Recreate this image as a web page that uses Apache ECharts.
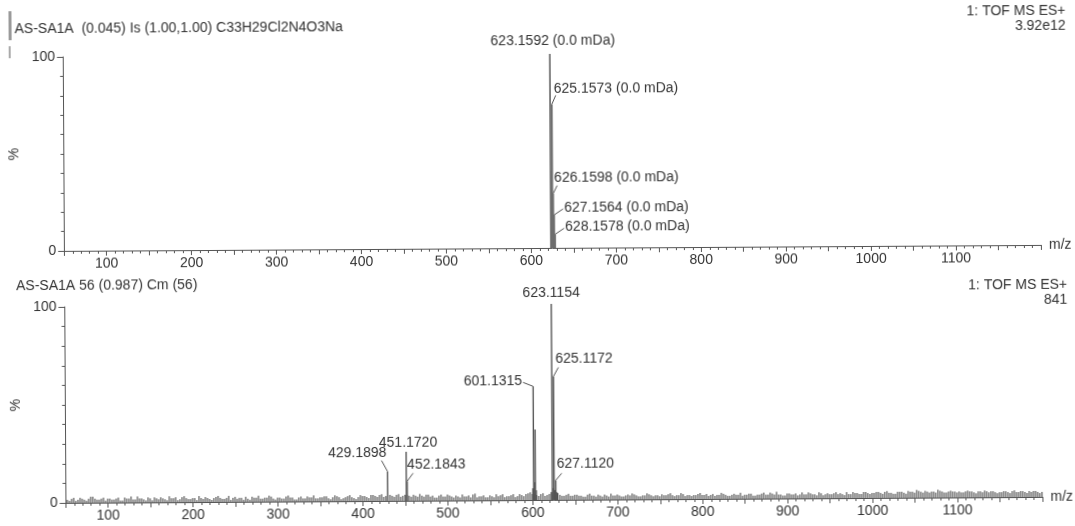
<!DOCTYPE html>
<html><head><meta charset="utf-8">
<script src="https://cdn.jsdelivr.net/npm/echarts@6/dist/echarts.min.js"></script>
<style>
html,body{margin:0;padding:0;background:#fff;overflow:hidden}
#c{width:1075px;height:526px;transform:rotate(-0.35deg);transform-origin:537px 263px;background:#fff}
</style>
</head><body><div id="c"></div>
<script>
// ---------- texts ----------
const topHeader = 'AS-SA1A  (0.045) Is (1.00,1.00) C33H29Cl2N4O3Na';
const topRight1 = '1: TOF MS ES+';
const topRight2 = '3.92e12';
const botHeader = 'AS-SA1A 56 (0.987) Cm (56)';
const botRight1 = '1: TOF MS ES+';
const botRight2 = '841';
const xTickLabels = [100, 200, 300, 400, 500, 600, 700, 800, 900, 1000, 1100];
const yTickLabels = [0, 100];

// ---------- top spectrum (theoretical isotope pattern) ----------
const topPeakMz  = [623.1592, 624.1625, 625.1573, 626.1598, 627.1564, 628.1578];
const topPeakInt = [100, 40, 74, 28, 17, 7];
const topLabelMz  = [623.1592, 625.1573, 626.1598, 627.1564, 628.1578];
const topLabelInt = [100, 74, 28, 17, 7];
const topLabelText = ['623.1592 (0.0 mDa)', '625.1573 (0.0 mDa)', '626.1598 (0.0 mDa)', '627.1564 (0.0 mDa)', '628.1578 (0.0 mDa)'];

// ---------- bottom spectrum (measured) ----------
const botPeakMz  = [429.1898, 451.1720, 452.1843, 600.13, 601.1315, 602.13, 603.13, 604.13, 622.11, 623.1154, 624.12, 625.1172, 626.12, 627.1120, 628.11];
const botPeakInt = [15, 25, 10, 6, 58, 9, 36, 5, 4, 100, 6, 63, 5, 10, 4];
const botLabelMz  = [623.1154, 625.1172, 601.1315, 451.1720, 429.1898, 452.1843, 627.1120];
const botLabelInt = [100, 63, 58, 25, 15, 10, 10];
const botLabelText = ['623.1154', '625.1172', '601.1315', '451.1720', '429.1898', '452.1843', '627.1120'];

// baseline noise, read as two interleaved sets of spikes (every 5 m/z, from m/z 52 and 54.5)
const noiseStartMzA = 52;
const noiseStartMzB = 54.5;
const noiseStepMz = 5;
const noiseIntA = [
  1.5,2,1,2.5,1.5,2,3,1.5,2,1,
  2,1.5,2.5,1,2,3,1.5,2,1.5,2.5,
  1,2,2.5,1.5,3,2,1,2.5,2,1.5,
  2,3,1.5,2,1,2.5,2,1.5,3,2,
  1.5,2,2.5,1,2,3,1.5,2,2.5,1,
  2,1.5,3,2,1,2.5,1.5,2,3,1.5,
  2,2.5,1,3,2,1.5,2.5,2,1,3,
  2.5,1.5,3,2,3.5,2.5,3,2,3.5,2.5,
  3,2,2.5,3.5,2,3,2.5,1.5,3,2,
  2.5,1.5,2,3,2,1.5,3.5,2,2.5,1.5,
  2,3,2.5,1.5,2,3,2,2.5,3,4,
  3,2,3.5,2.5,4,3,2.5,2,3,2,
  2.5,2,1.5,3,2,2.5,1.5,2,3,2,
  2,1.5,2.5,3,2,1.5,2,2.5,1.5,2,
  2.5,2,3,1.5,2,2.5,2,1.5,2,3,
  2,1.5,2.5,2,3,2,1.5,2.5,2,1.5,
  2,2.5,1.5,2,3,2,2.5,3.5,2,1.5,
  2.5,2,1.5,3,2,2.5,2,3,1.5,2.5,
  2,3,2.5,1.5,2,3,2.5,2,3,2,
  2.5,3,2,3.5,2.5,2,3,2.5,3.5,3,
  4,3,3.5,2.5,3,4,3,2.5,3.5,3,
  3,2.5,3.5,3,2,3,3.5,2.5,3,2,
  2.5,3,2,3.5,2.5,3,2,2.5,3,2
];
const noiseIntB = [
  1,2.5,1.5,2,1,3,2,1.5,2.5,2,
  1.5,2,1,2.5,2,1.5,3,2,1,2,
  2.5,1.5,2,1,2,2.5,1.5,3,1.5,2,
  1,2,2.5,1.5,2,3,1.5,2,1,2.5,
  2,1,1.5,2.5,2,1.5,2,3,1.5,2,
  1.5,2.5,2,1,2,1.5,2.5,2,1.5,2,
  2.5,1.5,2,2.5,1,2,3,1.5,2,2.5,
  2,3,2.5,3,2,3,2.5,3,2,3,
  2.5,3,2,2.5,3,2,1.5,2.5,2,3,
  2,2.5,1.5,2,2.5,3,1.5,2,1.5,2.5,
  1.5,2,3,2,2.5,1.5,3,2,3.5,3,
  2.5,3,2,3,2.5,3.5,2,2.5,2,2.5,
  2,1.5,2.5,2,1.5,2,2.5,1.5,2,2.5,
  1.5,2,2,2.5,1.5,2,3,2,2,1.5,
  2,2.5,2,2,3,1.5,2,2,2.5,2,
  2.5,2,1.5,2,2.5,1.5,2,2,3,2,
  2.5,1.5,2,2.5,2,3,2,2,1.5,2.5,
  2,2.5,2,2,3,2,1.5,2.5,2,2,
  2.5,2,2,3,2,2.5,2,3,2.5,2.5,
  3,2.5,3,2.5,2,3,3,2,3,2.5,
  3.5,2.5,3,3,2.5,3.5,2.5,3,3,2.5,
  2.5,3,3,2.5,3,2.5,3,3,2.5,2.5,
  3,2.5,3,2.5,3,2.5,3,3,2.5,2.5
];

// ---------- label layout (pixel offsets from peak apex; styling only) ----------
const topLabelLayout = [
  {lx:null, ly:null, tx:3,  ty:-13, align:'center'},
  {lx:4,  ly:-9, tx:2,  ty:-15, align:'left'},
  {lx:4,  ly:-8, tx:1,  ty:-16, align:'left'},
  {lx:9,  ly:-6, tx:10, ty:-7,  align:'left'},
  {lx:9,  ly:-6, tx:10, ty:-7,  align:'left'}
];
const botLabelLayout = [
  {lx:null, ly:null, tx:0, ty:-11, align:'center'},
  {lx:5,  ly:-9, tx:2,  ty:-17, align:'left'},
  {lx:-10, ly:-4, tx:-11, ty:-5, align:'right'},
  {lx:null, ly:null, tx:2, ty:-9, align:'center'},
  {lx:-6, ly:-11, tx:-1, ty:-18, align:'right'},
  {lx:6,  ly:-8, tx:0,  ty:-16, align:'left'},
  {lx:6,  ly:-7, tx:1,  ty:-16, align:'left'}
];

const FONT = '"Liberation Sans", Arial, sans-serif';
const FS = 14;
const TXT = '#333';
const AX = '#555';

const zip = (a, b) => a.map((v, i) => [v, b[i]]);
const noiseDataA = noiseIntA.map((v, i) => [noiseStartMzA + i * noiseStepMz, v]);
const noiseDataB = noiseIntB.map((v, i) => [noiseStartMzB + i * noiseStepMz, v]);

function peakRender(color, width) {
  return function (params, api) {
    const p0 = api.coord([api.value(0), 0]);
    const p1 = api.coord([api.value(0), api.value(1)]);
    return {type: 'line', shape: {x1: p0[0], y1: p0[1], x2: p1[0], y2: p1[1]},
            style: {stroke: color, lineWidth: width}};
  };
}
function labelRender(texts, layouts) {
  return function (params, api) {
    const i = params.dataIndex;
    const p = api.coord([api.value(0), api.value(1)]);
    const L = layouts[i];
    const ch = [];
    if (L.lx !== null) {
      ch.push({type: 'line', shape: {x1: p[0], y1: p[1], x2: p[0] + L.lx, y2: p[1] + L.ly},
               style: {stroke: '#555', lineWidth: 1}});
    }
    ch.push({type: 'text', x: p[0] + L.tx, y: p[1] + L.ty,
             style: {text: texts[i], fill: TXT, font: FS + 'px ' + FONT, align: L.align, verticalAlign: 'middle'}});
    return {type: 'group', children: ch};
  };
}

function xAxisCfg(gi) {
  return {
    type: 'value', gridIndex: gi, min: 50, max: 1200, interval: 50,
    name: 'm/z', nameLocation: 'end', nameGap: 8,
    nameTextStyle: {color: TXT, fontSize: FS, fontFamily: FONT},
    axisLine: {show: true, onZero: false, lineStyle: {color: AX, width: 1}},
    axisTick: {show: true, length: 5, lineStyle: {color: AX}},
    minorTick: {show: true, splitNumber: 5, length: 3, lineStyle: {color: AX}},
    axisLabel: {color: TXT, fontSize: FS, fontFamily: FONT, margin: 6,
                formatter: v => xTickLabels.includes(v) ? String(v) : ''},
    splitLine: {show: false}, minorSplitLine: {show: false}
  };
}
function yAxisCfg(gi) {
  return {
    type: 'value', gridIndex: gi, min: 0, max: 100, interval: 100,
    name: '%', nameLocation: 'middle', nameGap: 20, nameRotate: 90,
    nameTextStyle: {color: TXT, fontSize: FS, fontFamily: FONT},
    axisLine: {show: true, lineStyle: {color: AX, width: 1}},
    axisTick: {show: true, length: 6, lineStyle: {color: AX}},
    minorTick: {show: true, splitNumber: 10, length: 3, lineStyle: {color: AX}},
    axisLabel: {color: TXT, fontSize: FS, fontFamily: FONT, margin: 8,
                formatter: v => yTickLabels.includes(v) ? String(v) : ''},
    splitLine: {show: false}
  };
}

const chart = echarts.init(document.getElementById('c'), null, {renderer: 'canvas'});
chart.setOption({
  backgroundColor: '#fff',
  animation: false,
  grid: [
    {left: 52, right: 34, top: 54, height: 194},
    {left: 52, right: 34, top: 304, height: 196}
  ],
  xAxis: [xAxisCfg(0), xAxisCfg(1)],
  yAxis: [yAxisCfg(0), yAxisCfg(1)],
  graphic: [
    {type: 'text', left: 16, top: 19, style: {text: topHeader, fill: TXT, font: FS + 'px ' + FONT}},
    {type: 'text', right: 8, top: 7, style: {text: topRight1, fill: TXT, font: FS + 'px ' + FONT}},
    {type: 'text', right: 8, top: 22, style: {text: topRight2, fill: TXT, font: FS + 'px ' + FONT}},
    {type: 'text', left: 16, top: 276, style: {text: botHeader, fill: TXT, font: FS + 'px ' + FONT}},
    {type: 'text', right: 8, top: 281, style: {text: botRight1, fill: TXT, font: FS + 'px ' + FONT}},
    {type: 'text', right: 8, top: 296, style: {text: botRight2, fill: TXT, font: FS + 'px ' + FONT}},
    {type: 'rect', left: 10, top: 8, shape: {width: 3, height: 29}, style: {fill: '#9a9a9a'}},
    {type: 'rect', left: 10, top: 43, shape: {width: 2, height: 12}, style: {fill: '#aaa'}}
  ],
  series: [
    {type: 'custom', xAxisIndex: 0, yAxisIndex: 0, clip: false, data: zip(topPeakMz, topPeakInt),
     renderItem: peakRender('#6e6e6e', 1.7)},
    {type: 'custom', xAxisIndex: 0, yAxisIndex: 0, clip: false, data: zip(topLabelMz, topLabelInt),
     renderItem: labelRender(topLabelText, topLabelLayout)},
    {type: 'custom', xAxisIndex: 1, yAxisIndex: 1, clip: false, data: noiseDataA,
     renderItem: peakRender('#4a4a4a', 1.1)},
    {type: 'custom', xAxisIndex: 1, yAxisIndex: 1, clip: false, data: noiseDataB,
     renderItem: peakRender('#4a4a4a', 1.1)},
    {type: 'custom', xAxisIndex: 1, yAxisIndex: 1, clip: false, data: zip(botPeakMz, botPeakInt),
     renderItem: peakRender('#555', 1.4)},
    {type: 'custom', xAxisIndex: 1, yAxisIndex: 1, clip: false, data: zip(botLabelMz, botLabelInt),
     renderItem: labelRender(botLabelText, botLabelLayout)}
  ]
});
</script>
</body></html>
